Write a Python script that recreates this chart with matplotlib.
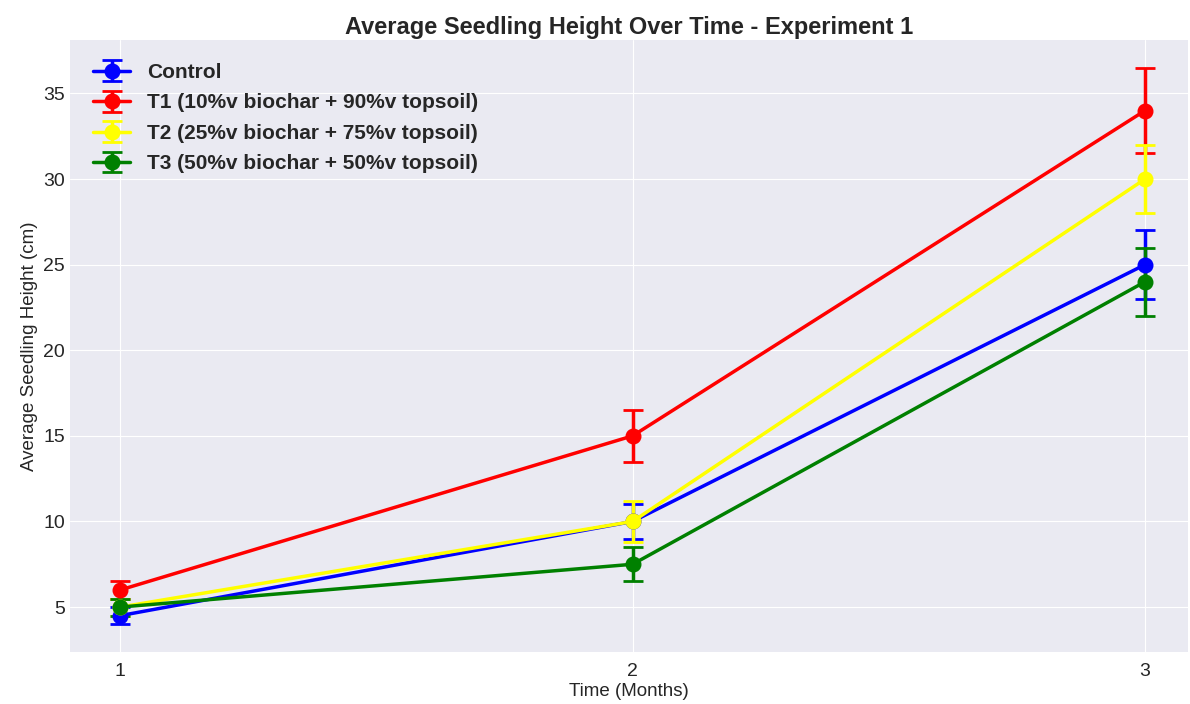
import numpy as np
from matplotlib import pyplot as plt

months = [1, 2, 3]

control = [4.5, 10, 25]  # средняя высота, см
control_err = [0.5, 1.0, 2.0]
t1 = [6, 15, 34]
t1_err = [0.5, 1.5, 2.5]
t2 = [5, 10, 30]
t2_err = [0.5, 1.2, 2.0]
t3 = [5, 7.5, 24]
t3_err = [0.5, 1.0, 2.0]

labels = ['Control',
          'T1 (10%v biochar + 90%v topsoil)',
          'T2 (25%v biochar + 75%v topsoil)',
          'T3 (50%v biochar + 50%v topsoil)']
colors = ['blue', 'red', 'yellow', 'green']

plt.style.use('seaborn-v0_8-darkgrid')
plt.rcParams['font.family'] = ['Liberation Sans', 'DejaVu Sans']

fig, ax = plt.subplots(figsize=(11.9, 7.04), dpi=100)
fig.subplots_adjust(left=70 / 1190, right=1188 / 1190, top=1 - 40 / 704, bottom=1 - 652 / 704)

series = [(control, control_err), (t1, t1_err), (t2, t2_err), (t3, t3_err)]
for (vals, errs), lab, col in zip(series, labels, colors):
    ax.errorbar(months, vals, yerr=errs, label=lab, color=col, marker='o',
                markersize=10.5, linewidth=2.5, capsize=7, capthick=2, elinewidth=2.5)

ax.set_xlim(0.902, 3.084)
ax.set_xticks(months)
ax.tick_params(labelsize=14)
ax.tick_params(axis='x', pad=8)
ax.set_xlabel('Time (Months)', fontsize=13.5, labelpad=2)
ax.set_ylabel('Average Seedling Height (cm)', fontsize=13.5)
ax.set_title('Average Seedling Height Over Time - Experiment 1', fontsize=17, fontweight='bold', pad=4)
ax.legend(loc='upper left', prop={'size': 15, 'weight': 'bold'}, handlelength=1.8,
          labelspacing=0.55, borderaxespad=0.7)

plt.savefig('out.png')
